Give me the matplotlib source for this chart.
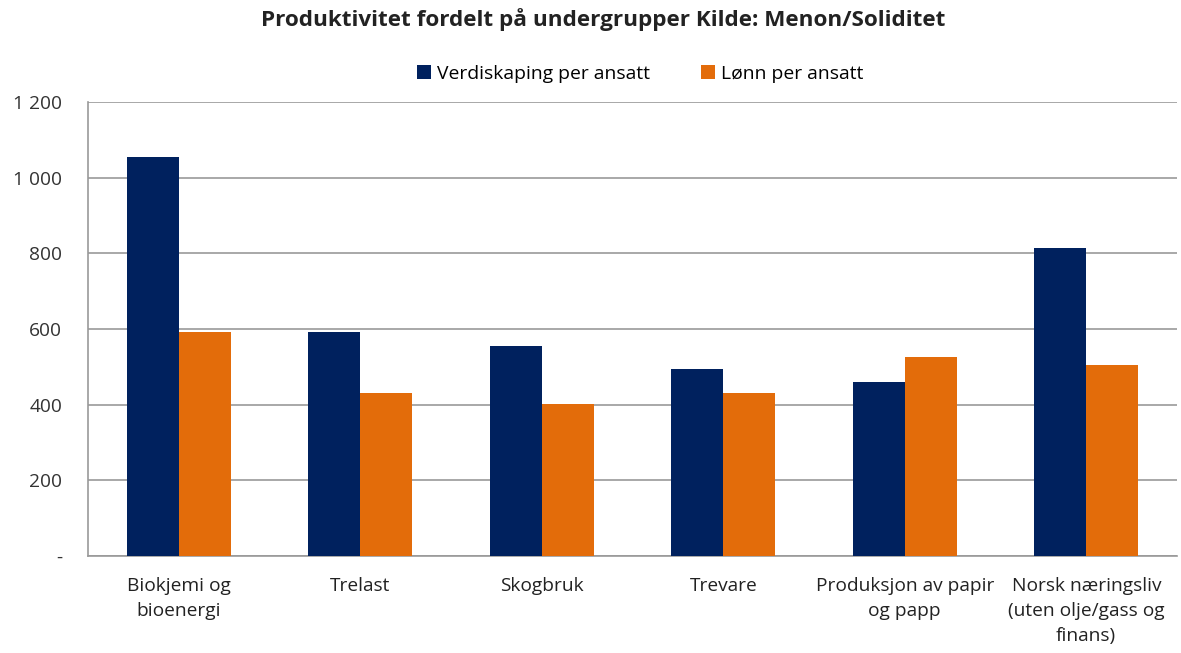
import matplotlib
matplotlib.use("Agg")
import matplotlib.pyplot as plt
import numpy as np
from matplotlib.ticker import FuncFormatter

plt.rcParams['font.family'] = ['Open Sans', 'DejaVu Sans']

categories = ["Biokjemi og\nbioenergi", "Trelast", "Skogbruk", "Trevare",
              "Produksjon av papir\nog papp", "Norsk næringsliv\n(uten olje/gass og\nfinans)"]
verdiskaping = [1055, 591, 556, 493, 459, 815]
lonn = [593, 432, 403, 432, 525, 504]
series_names = ["Verdiskaping per ansatt", "Lønn per ansatt"]
yticks = [0, 200, 400, 600, 800, 1000, 1200]

blue = "#00215E"
orange = "#E36C0A"

fig = plt.figure(figsize=(11.81, 6.53), dpi=100)
ax = fig.add_axes([88/1181, (653-556)/653, (1177-88)/1181, (556-102)/653])

x = np.arange(len(categories))
w = 0.287
ax.bar(x - w/2, verdiskaping, w, color=blue, label=series_names[0], zorder=3)
ax.bar(x + w/2, lonn, w, color=orange, label=series_names[1], zorder=3)

ax.set_xlim(-0.5, len(categories) - 0.5)
ax.set_ylim(0, 1200)
ax.set_yticks(yticks)
def fmt(v, p):
    if v == 0:
        return "-"
    return f"{int(v):,}".replace(",", " ")
ax.yaxis.set_major_formatter(FuncFormatter(fmt))
ax.yaxis.grid(True, color="#999999", linewidth=1.2, zorder=0)
ax.set_axisbelow(True)
for s in ["top", "right"]:
    ax.spines[s].set_visible(False)
for s in ["left", "bottom"]:
    ax.spines[s].set_color("#999999")
    ax.spines[s].set_linewidth(1.2)
ax.tick_params(axis="y", length=0, pad=18.5, labelsize=13.8, colors="#333333")
ax.tick_params(axis="x", length=0, pad=15, labelsize=13.8, colors="#222222")
ax.set_xticks(x)
ax.set_xticklabels(categories, linespacing=1.5)

fig.suptitle("Produktivitet fordelt på undergrupper Kilde: Menon/Soliditet",
             fontsize=16.2, fontweight="bold", x=0.5106, y=0.988, color="#222222")
fig.legend(loc="center", bbox_to_anchor=(0.542, 0.887), ncol=2, frameon=False,
           fontsize=13.9, handlelength=0.75, handleheight=0.75, handletextpad=0.3,
           columnspacing=2.6)

fig.savefig("out.png", dpi=100)
